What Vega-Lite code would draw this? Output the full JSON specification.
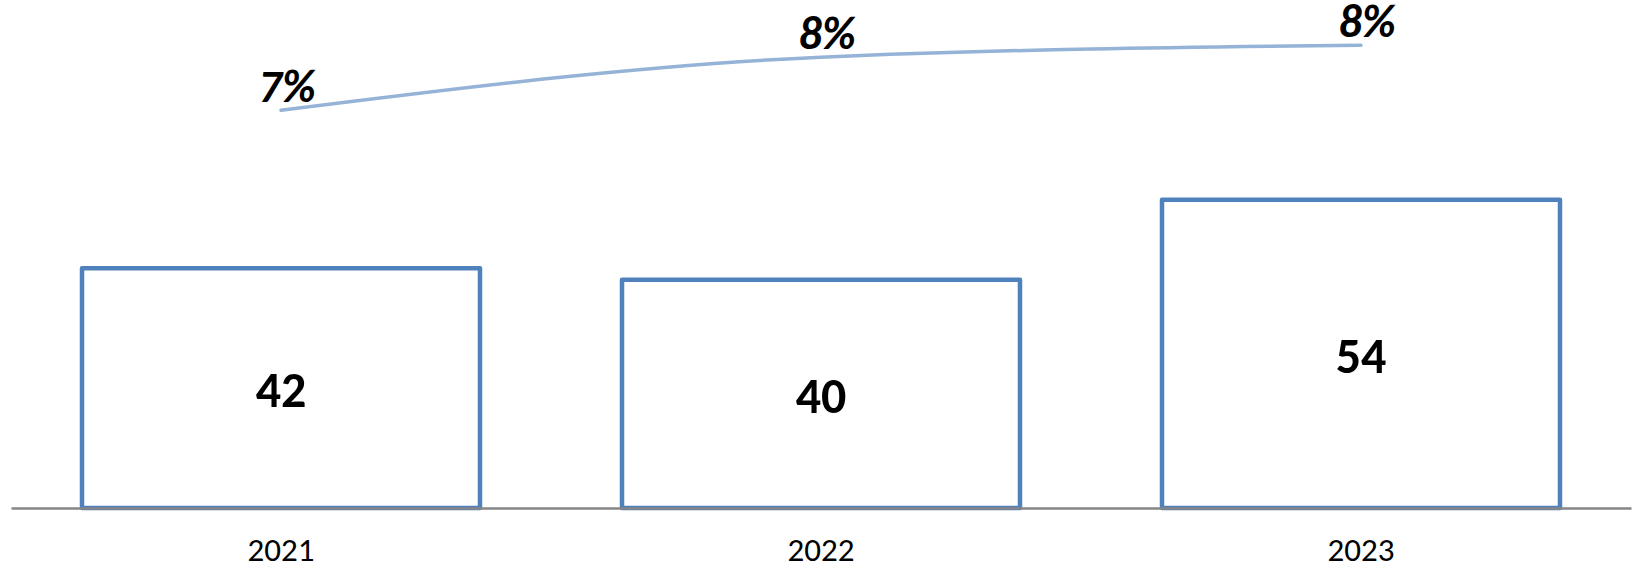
{
  "$schema": "https://vega.github.io/schema/vega-lite/v6.json",
  "autosize": {"type": "none"},
  "width": 1620,
  "height": 508,
  "padding": {"left": 11, "top": 0, "right": 3, "bottom": 62},
  "background": "white",
  "config": {
    "view": {"stroke": null},
    "font": "Carlito, Liberation Sans, Arial, sans-serif"
  },
  "data": {
    "values": [
      {"year": "2021", "value": 42, "share": 0.070},
      {"year": "2022", "value": 40, "share": 0.0775},
      {"year": "2023", "value": 54, "share": 0.0792}
    ]
  },
  "encoding": {
    "x": {
      "field": "year",
      "type": "nominal",
      "sort": null,
      "scale": {"paddingInner": 0.263, "paddingOuter": 0.1315},
      "axis": {
        "title": null,
        "labelAngle": 0,
        "labelFontSize": 33,
        "labelColor": "#000000",
        "labelPadding": 26,
        "ticks": false,
        "domainColor": "#868686",
        "domainWidth": 2.5,
        "grid": false,
        "zindex": 1
      }
    }
  },
  "layer": [
    {
      "mark": {"type": "bar", "fill": "white", "stroke": "#4F81BD", "strokeWidth": 4.5, "strokeJoin": "round"},
      "encoding": {
        "y": {"field": "value", "type": "quantitative", "scale": {"domain": [0, 89]}, "axis": null}
      }
    },
    {
      "mark": {"type": "text", "fontSize": 50, "fontWeight": "bold", "color": "#000000", "baseline": "middle", "dy": 4},
      "encoding": {
        "y": {"field": "value", "type": "quantitative", "scale": {"domain": [0, 178]}, "axis": null},
        "text": {"field": "value", "type": "quantitative"}
      }
    },
    {
      "layer": [
        {
          "mark": {"type": "line", "interpolate": "monotone", "color": "#95B3D7", "strokeWidth": 3.5, "strokeCap": "round"},
          "encoding": {
            "y": {"field": "share", "type": "quantitative", "scale": {"domain": [0.0137, 0.0856], "zero": false}, "axis": null}
          }
        },
        {
          "mark": {"type": "text", "fontSize": 46, "fontWeight": "bold", "fontStyle": "italic", "color": "#000000", "baseline": "alphabetic", "dy": -8, "dx": 6},
          "encoding": {
            "y": {"field": "share", "type": "quantitative", "scale": {"domain": [0.0137, 0.0856], "zero": false}, "axis": null},
            "text": {"field": "share", "type": "quantitative", "format": ".0%"}
          }
        }
      ]
    }
  ],
  "resolve": {"scale": {"y": "independent"}}
}
